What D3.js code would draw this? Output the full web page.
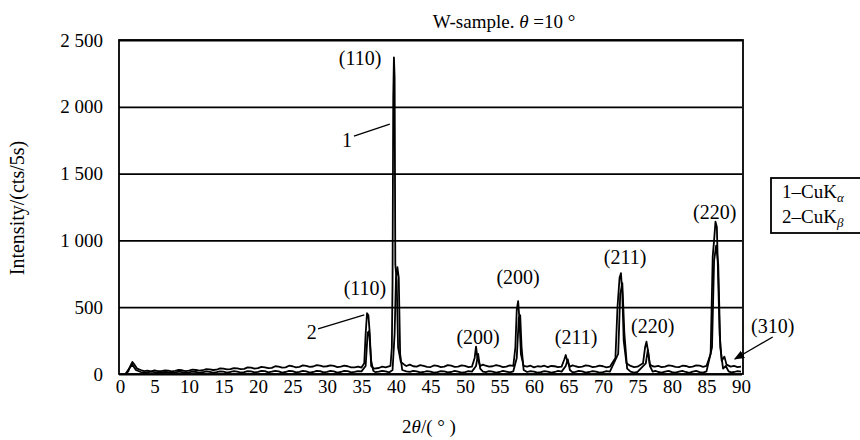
<!DOCTYPE html>
<html>
<head>
<meta charset="utf-8">
<script src="https://cdn.jsdelivr.net/npm/d3@7"></script>
<style>
  body { margin: 0; background: #fff; }
  text { font-family: "Liberation Serif", "DejaVu Serif", serif; fill: #000; }
</style>
</head>
<body>
<div id="canvas"></div>
<script>
// Canvas size and plot box.
const WIDTH = 860;
const HEIGHT = 440;
const LEFT = 120, RIGHT = 741, TOP = 40, BOTTOM = 374;

// Tick values.
const xTicks = [0, 5, 10, 15, 20, 25, 30, 35, 40, 45, 50, 55, 60, 65, 70, 75, 80, 85, 90];
const yTicks = [0, 500, 1000, 1500, 2000, 2500];

// Upper trace: [2theta, counts].
const traceUpper = [
  [0.8, 0], [1.2, 20], [1.5, 60], [1.8, 90], [2.1, 70], [2.5, 40], [3, 30], [3.5, 22], [4, 25], [4.5, 20],
  [5, 28], [5.5, 22], [6, 22], [6.5, 27], [7, 26], [7.5, 20], [8, 24], [8.5, 30], [9, 28], [9.5, 22],
  [10, 25], [10.5, 32], [11, 30], [11.5, 26], [12, 28], [12.5, 36], [13, 35], [13.5, 30], [14, 32],
  [14.5, 42], [15, 40], [15.5, 34], [16, 36], [16.5, 44], [17, 42], [17.5, 36], [18, 38], [18.5, 50],
  [19, 48], [19.5, 40], [20, 44], [20.5, 54], [21, 50], [21.5, 44], [22, 46], [22.5, 58], [23, 55],
  [23.5, 48], [24, 50], [24.5, 62], [25, 58], [25.5, 50], [26, 54], [26.5, 64], [27, 60], [27.5, 54],
  [28, 56], [28.5, 66], [29, 62], [29.5, 55], [30, 58], [30.5, 64], [31, 60], [31.5, 52], [32, 55],
  [32.5, 62], [33, 58], [33.5, 50], [34, 50], [34.5, 56], [35, 48],
  [35.4, 80], [35.6, 300], [35.8, 455], [36.0, 440], [36.2, 300], [36.4, 60], [36.8, 40], [37.5, 45],
  [38, 55], [38.5, 50], [39.2, 60], [39.4, 200], [39.5, 700], [39.6, 2070], [39.7, 2370], [39.8, 2220],
  [39.9, 820], [40.1, 700], [40.3, 200], [40.7, 90], [41.2, 70], [41.5, 60], [42, 70], [42.5, 58],
  [43, 55], [43.5, 66], [44, 60], [44.5, 54], [45, 52], [45.5, 64], [46, 60], [46.5, 52], [47, 55],
  [47.5, 66], [48, 62], [48.5, 54], [49, 55], [49.5, 64], [50, 60], [50.5, 52], [51, 55], [51.4, 120],
  [51.6, 205], [51.8, 120], [52.2, 60], [52.6, 70], [53, 62], [53.5, 55], [54, 58], [54.5, 66], [55, 60],
  [55.5, 52], [56, 55], [56.5, 64], [57, 60], [57.3, 200], [57.5, 480], [57.7, 545], [57.9, 400],
  [58.1, 150], [58.5, 60], [59, 55], [59.5, 62], [60, 50], [60.5, 58], [61, 55], [61.5, 62], [62, 52],
  [62.5, 60], [63, 58], [63.5, 52], [64, 55], [64.4, 110], [64.6, 142], [64.8, 100], [65.2, 55],
  [65.6, 64], [66, 58], [66.5, 52], [67, 55], [67.5, 64], [68, 60], [68.5, 52], [69, 55], [69.5, 62],
  [70, 58], [70.5, 50], [71, 55], [71.8, 120], [72.1, 500], [72.4, 720], [72.6, 755], [72.8, 600],
  [73.0, 250], [73.4, 80], [74, 60], [74.5, 52], [75, 55], [75.8, 80], [76.1, 200], [76.3, 242],
  [76.5, 180], [76.8, 70], [77.2, 58], [77.5, 55], [78, 60], [78.5, 52], [79, 55], [79.5, 64], [80, 60],
  [80.5, 54], [81, 52], [81.5, 62], [82, 60], [82.5, 52], [83, 55], [83.5, 64], [84, 62], [84.5, 54],
  [85, 60], [85.6, 150], [85.9, 880], [86.1, 1000], [86.3, 1140], [86.5, 1100], [86.7, 700], [86.9, 300],
  [87.2, 100], [87.6, 130], [87.9, 70], [88.5, 55], [89, 60], [89.5, 52], [90, 55]
];

// Lower trace: [2theta, counts].
const traceLower = [
  [0.8, 0], [1.3, 40], [1.8, 70], [2.3, 30], [3, 15], [3.5, 8], [4, 12], [4.5, 18], [5, 14], [5.5, 8],
  [6, 10], [6.5, 16], [7, 13], [7.5, 8], [8, 11], [8.5, 17], [9, 14], [9.5, 9], [10, 12], [10.5, 18],
  [11, 15], [11.5, 9], [12, 13], [12.5, 19], [13, 16], [13.5, 10], [14, 14], [14.5, 20], [15, 18],
  [15.5, 11], [16, 15], [16.5, 21], [17, 18], [17.5, 10], [18, 14], [18.5, 22], [19, 20], [19.5, 12],
  [20, 16], [20.5, 24], [21, 22], [21.5, 12], [22, 17], [22.5, 24], [23, 20], [23.5, 11], [24, 15],
  [24.5, 24], [25, 22], [25.5, 12], [26, 16], [26.5, 24], [27, 20], [27.5, 11], [28, 15], [28.5, 24],
  [29, 22], [29.5, 12], [30, 16], [30.5, 23], [31, 20], [31.5, 11], [32, 15], [32.5, 24], [33, 22],
  [33.5, 12], [34, 16], [34.5, 22], [35, 20], [35.6, 60], [35.9, 310],
  [36.1, 320], [36.4, 100], [36.7, 25], [37, 14], [37.5, 18], [38, 24], [38.5, 20], [39, 12], [39.5, 30],
  [39.8, 300], [40.0, 720], [40.2, 800], [40.4, 720], [40.6, 150], [40.9, 30], [41.5, 20], [42, 16],
  [42.5, 24], [43, 20], [43.5, 12], [44, 15], [44.5, 22], [45, 18], [45.5, 10], [46, 14], [46.5, 22],
  [47, 20], [47.5, 12], [48, 15], [48.5, 23], [49, 18], [49.5, 10], [50, 14], [50.5, 22], [51, 18],
  [51.6, 60], [51.9, 150], [52.2, 40], [52.6, 18], [53, 14], [53.5, 22], [54, 18], [54.5, 10], [55, 15],
  [55.5, 23], [56, 18], [56.5, 12], [57, 20], [57.5, 120], [57.8, 420], [58.0, 440], [58.2, 200],
  [58.5, 30], [59, 15], [59.5, 22], [60, 18], [60.5, 10], [61, 14], [61.5, 22], [62, 18], [62.5, 11],
  [63, 15], [63.5, 23], [64, 18], [64.6, 60], [64.9, 110], [65.2, 30], [65.6, 12], [66, 16], [66.5, 24],
  [67, 20], [67.5, 11], [68, 15], [68.5, 22], [69, 18], [69.5, 10], [70, 14], [70.5, 22], [71, 18],
  [72.2, 150], [72.5, 600], [72.8, 680], [73.1, 300], [73.5, 40], [74, 18], [74.5, 10], [75, 15],
  [76.2, 80], [76.5, 180], [76.8, 60], [77.2, 18], [77.6, 24], [78, 15], [78.5, 10], [79, 18], [79.5, 24],
  [80, 14], [80.5, 10], [81, 18], [81.5, 23], [82, 15], [82.5, 9], [83, 18], [83.5, 24], [84, 14],
  [84.5, 10], [85, 20], [85.8, 200], [86.1, 850], [86.4, 960], [86.7, 820], [87.0, 200], [87.4, 40],
  [87.8, 60], [88.2, 20], [88.6, 12], [89, 15], [89.5, 22], [90, 18]
];

// Peak labels: text, 2theta and counts where the label sits.
const peakLabels = [
  { text: "(110)", theta: 34.8, value: 2365 },
  { text: "(110)", theta: 35.5, value: 644 },
  { text: "(200)", theta: 51.9, value: 277 },
  { text: "(200)", theta: 57.7, value: 726 },
  { text: "(211)", theta: 66.1, value: 277 },
  { text: "(211)", theta: 73.2, value: 876 },
  { text: "(220)", theta: 77.2, value: 359 },
  { text: "(220)", theta: 86.2, value: 1213 },
  { text: "(310)", theta: 94.6, value: 359 }
];

// Creates the SVG element.
const svg = d3.select("#canvas")
    .append("svg")
    .attr("width", WIDTH)
    .attr("height", HEIGHT);

// Scales.
const xScale = d3.scaleLinear().domain([0, 90]).range([LEFT, RIGHT]);
const yScale = d3.scaleLinear().domain([0, 2500]).range([BOTTOM, TOP]);

// Gridlines and y tick labels.
const yAxis = d3.axisLeft(yScale)
    .tickValues(yTicks)
    .tickSize(-(RIGHT + 2 - LEFT))
    .tickPadding(16)
    .tickFormat(d => d3.format(",")(d).replace(",", " "));

const gy = svg.append("g")
    .attr("transform", `translate(${LEFT - 1},0)`)
    .call(yAxis);
gy.select(".domain").remove();
gy.selectAll("line").attr("stroke", "#000").attr("stroke-width", 1.8);
gy.selectAll("text").style("font-size", "19px").attr("font-family", null);

// x tick labels.
const xAxis = d3.axisBottom(xScale)
    .tickValues(xTicks)
    .tickSize(0)
    .tickPadding(6);

const gx = svg.append("g")
    .attr("transform", `translate(0,${BOTTOM})`)
    .call(xAxis);
gx.select(".domain").remove();
gx.selectAll("text").style("font-size", "19px").attr("font-family", null);

// Plot frame.
svg.append("rect")
    .attr("x", LEFT - 1)
    .attr("y", TOP)
    .attr("width", RIGHT + 2 - (LEFT - 1))
    .attr("height", BOTTOM - TOP)
    .attr("fill", "none")
    .attr("stroke", "#000")
    .attr("stroke-width", 1.8);

// Data traces.
const line = d3.line()
    .x(d => xScale(d[0]))
    .y(d => yScale(d[1]));

[traceLower, traceUpper].forEach(tr => {
    svg.append("path")
        .datum(tr)
        .attr("d", line)
        .attr("fill", "none")
        .attr("stroke", "#000")
        .attr("stroke-width", 1.8)
        .attr("stroke-linejoin", "round");
});

// Peak labels.
svg.selectAll(".peak")
    .data(peakLabels)
    .enter()
    .append("text")
    .attr("class", "peak")
    .attr("x", d => xScale(d.theta))
    .attr("y", d => yScale(d.value))
    .attr("dy", "0.35em")
    .attr("text-anchor", "middle")
    .style("font-size", "20px")
    .text(d => d.text);

// Leader lines for "1" and "2".
const leaders = [
  { text: "1", theta: 32.9, value: 1751, from: [33.9, 1781], to: [39.1, 1871] },
  { text: "2", theta: 27.8, value: 314, from: [28.7, 337], to: [35.4, 442] }
];
leaders.forEach(l => {
    svg.append("text")
        .attr("x", xScale(l.theta))
        .attr("y", yScale(l.value))
        .attr("dy", "0.35em")
        .attr("text-anchor", "middle")
        .style("font-size", "20px")
        .text(l.text);
    svg.append("line")
        .attr("x1", xScale(l.from[0])).attr("y1", yScale(l.from[1]))
        .attr("x2", xScale(l.to[0])).attr("y2", yScale(l.to[1]))
        .attr("stroke", "#000").attr("stroke-width", 1.3);
});

// Arrow to (310).
svg.append("defs").append("marker")
    .attr("id", "arrow")
    .attr("viewBox", "0 0 10 10")
    .attr("refX", 9).attr("refY", 5)
    .attr("markerWidth", 8).attr("markerHeight", 8)
    .attr("orient", "auto")
    .append("path")
    .attr("d", "M0,1 L10,5 L0,9 Z")
    .attr("fill", "#000");

svg.append("line")
    .attr("x1", xScale(94.6)).attr("y1", yScale(277))
    .attr("x2", xScale(89.1)).attr("y2", yScale(112))
    .attr("stroke", "#000").attr("stroke-width", 1.3)
    .attr("marker-end", "url(#arrow)");

// Title.
const title = svg.append("text")
    .attr("x", 504)
    .attr("y", 28)
    .attr("text-anchor", "middle")
    .style("font-size", "19px");
title.append("tspan").text("W-sample. ");
title.append("tspan").style("font-style", "italic").text("θ");
title.append("tspan").text(" =10 °");

// Axis titles.
const xTitle = svg.append("text")
    .attr("x", 429)
    .attr("y", 433)
    .attr("text-anchor", "middle")
    .style("font-size", "19px");
xTitle.append("tspan").text("2");
xTitle.append("tspan").style("font-style", "italic").text("θ");
xTitle.append("tspan").text("/( ° )");

svg.append("text")
    .attr("transform", "translate(24,208) rotate(-90)")
    .attr("text-anchor", "middle")
    .style("font-size", "20px")
    .text("Intensity/(cts/5s)");

// Legend.
svg.append("rect")
    .attr("x", 771)
    .attr("y", 178)
    .attr("width", 100)
    .attr("height", 55)
    .attr("fill", "none")
    .attr("stroke", "#000")
    .attr("stroke-width", 1.8);

const legendItems = [
  { text: "1–CuK", sub: "α" },
  { text: "2–CuK", sub: "β" }
];
legendItems.forEach((d, i) => {
    const t = svg.append("text")
        .attr("x", 782)
        .attr("y", 198 + i * 25)
        .style("font-size", "19px");
    t.append("tspan").text(d.text);
    t.append("tspan").attr("dy", 4).style("font-size", "13px").style("font-style", "italic").text(d.sub);
});
</script>
</body>
</html>
